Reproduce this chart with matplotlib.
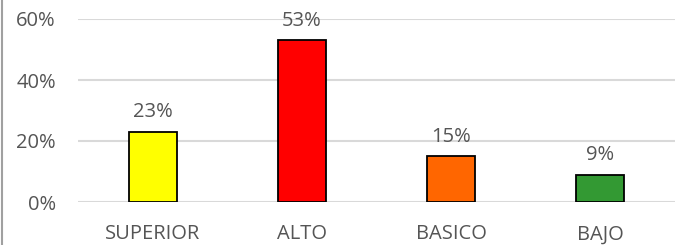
import matplotlib.pyplot as plt
from matplotlib.lines import Line2D

categories = ["SUPERIOR", "ALTO", "BASICO", "BAJO"]
values = [23, 53, 15, 9]
colors = ["#ffff00", "#ff0000", "#ff6600", "#339933"]
yticks = [0, 20, 40, 60]

plt.rcParams['font.family'] = ['Open Sans', 'DejaVu Sans']
text_color = "#555555"
fs = 14.5

fig = plt.figure(figsize=(6.86, 2.45), dpi=100)
ax = fig.add_axes([78 / 686, 1 - 202 / 245, 597 / 686, 183 / 245])

x = range(len(categories))
bars = ax.bar(x, values, width=0.32, color=colors, edgecolor="black",
              linewidth=1.3, zorder=3)
for xi, v in zip(x, values):
    ax.annotate(f"{v}%", (xi, v), xytext=(0, 7), textcoords="offset points",
                ha="center", va="bottom", fontsize=fs, color=text_color)

ax.set_xlim(-0.5, 3.5)
ax.set_ylim(0, 60)
ax.set_yticks(yticks)
ax.set_yticklabels([f"{t}%" for t in yticks])
ax.set_xticks(list(x))
ax.set_xticklabels(categories)
ax.tick_params(axis="both", length=0, labelsize=fs, labelcolor=text_color)
ax.tick_params(axis="y", pad=16)
ax.tick_params(axis="x", pad=16)
ax.yaxis.grid(True, color="#d9d9d9", linewidth=1.5, zorder=0)
ax.set_axisbelow(True)
for s in ax.spines.values():
    s.set_visible(False)

# thin border on the left edge of the picture
fig.add_artist(Line2D([1.5 / 686, 1.5 / 686], [0, 1], color="#a0a0a0",
                      linewidth=1.5, transform=fig.transFigure))

fig.savefig("out.png", dpi=100)
